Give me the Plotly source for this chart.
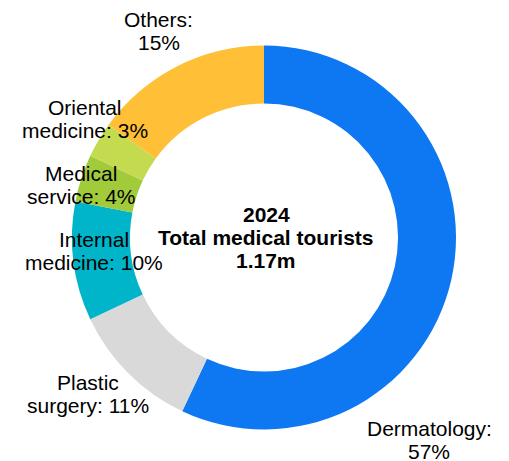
import plotly.graph_objects as go

# Share of medical tourists by specialty, 2024 (percent)
categories = ["Dermatology", "Plastic surgery", "Internal medicine",
              "Medical service", "Oriental medicine", "Others"]
shares = [57, 11, 10, 4, 3, 15]
colors = ["#0E78F2", "#D9D9D9", "#00B4CA", "#A1CB3A", "#C5DB4F", "#FFBF37"]

center_lines = ["2024", "Total medical tourists", "1.17m"]

W, H = 509, 461
FONT = "Liberation Sans, Arial, sans-serif"
SIZE = 21

# label anchor per slice: (centre x px, first baseline y px)
label_pos = {
    "Dermatology": (429, 435.5),
    "Plastic surgery": (88, 390),
    "Internal medicine": (94, 246.5),
    "Medical service": (81, 181),
    "Oriental medicine": (85, 115),
    "Others": (158.5, 26.5),
}
LINE_GAP = 23

cx, cy, r = 264, 237.5, 192

fig = go.Figure(go.Pie(
    labels=categories,
    values=shares,
    marker=dict(colors=colors, line=dict(width=0)),
    hole=0.698,
    sort=False,
    direction="clockwise",
    rotation=0,
    textinfo="none",
    hoverinfo="label+percent",
    domain=dict(x=[(cx - r) / W, (cx + r) / W],
                y=[(H - cy - r) / H, (H - cy + r) / H]),
    showlegend=False,
))


def baseline_to_paper(py):
    # annotation is centred vertically; shift from baseline to text middle
    return 1 - (py - 0.3465 * SIZE) / H


annotations = []
for cat, val in zip(categories, shares):
    text = f"{cat}: {val}%"
    first, second = text.split(" ", 1)
    x, y0 = label_pos[cat]
    for i, line in enumerate([first, second]):
        annotations.append(dict(
            x=x / W, y=baseline_to_paper(y0 + i * LINE_GAP),
            xref="paper", yref="paper", xanchor="center", yanchor="middle",
            text=line, showarrow=False,
            font=dict(family=FONT, size=SIZE, color="#000000"),
        ))

for i, line in enumerate(center_lines):
    annotations.append(dict(
        x=266 / W, y=baseline_to_paper(222 + i * LINE_GAP),
        xref="paper", yref="paper", xanchor="center", yanchor="middle",
        text=f"<b>{line}</b>", showarrow=False,
        font=dict(family=FONT, size=SIZE, color="#000000"),
    ))

fig.update_layout(
    width=W, height=H,
    margin=dict(l=0, r=0, t=0, b=0),
    paper_bgcolor="#FFFFFF",
    plot_bgcolor="#FFFFFF",
    annotations=annotations,
)

fig.write_html("out.html")
